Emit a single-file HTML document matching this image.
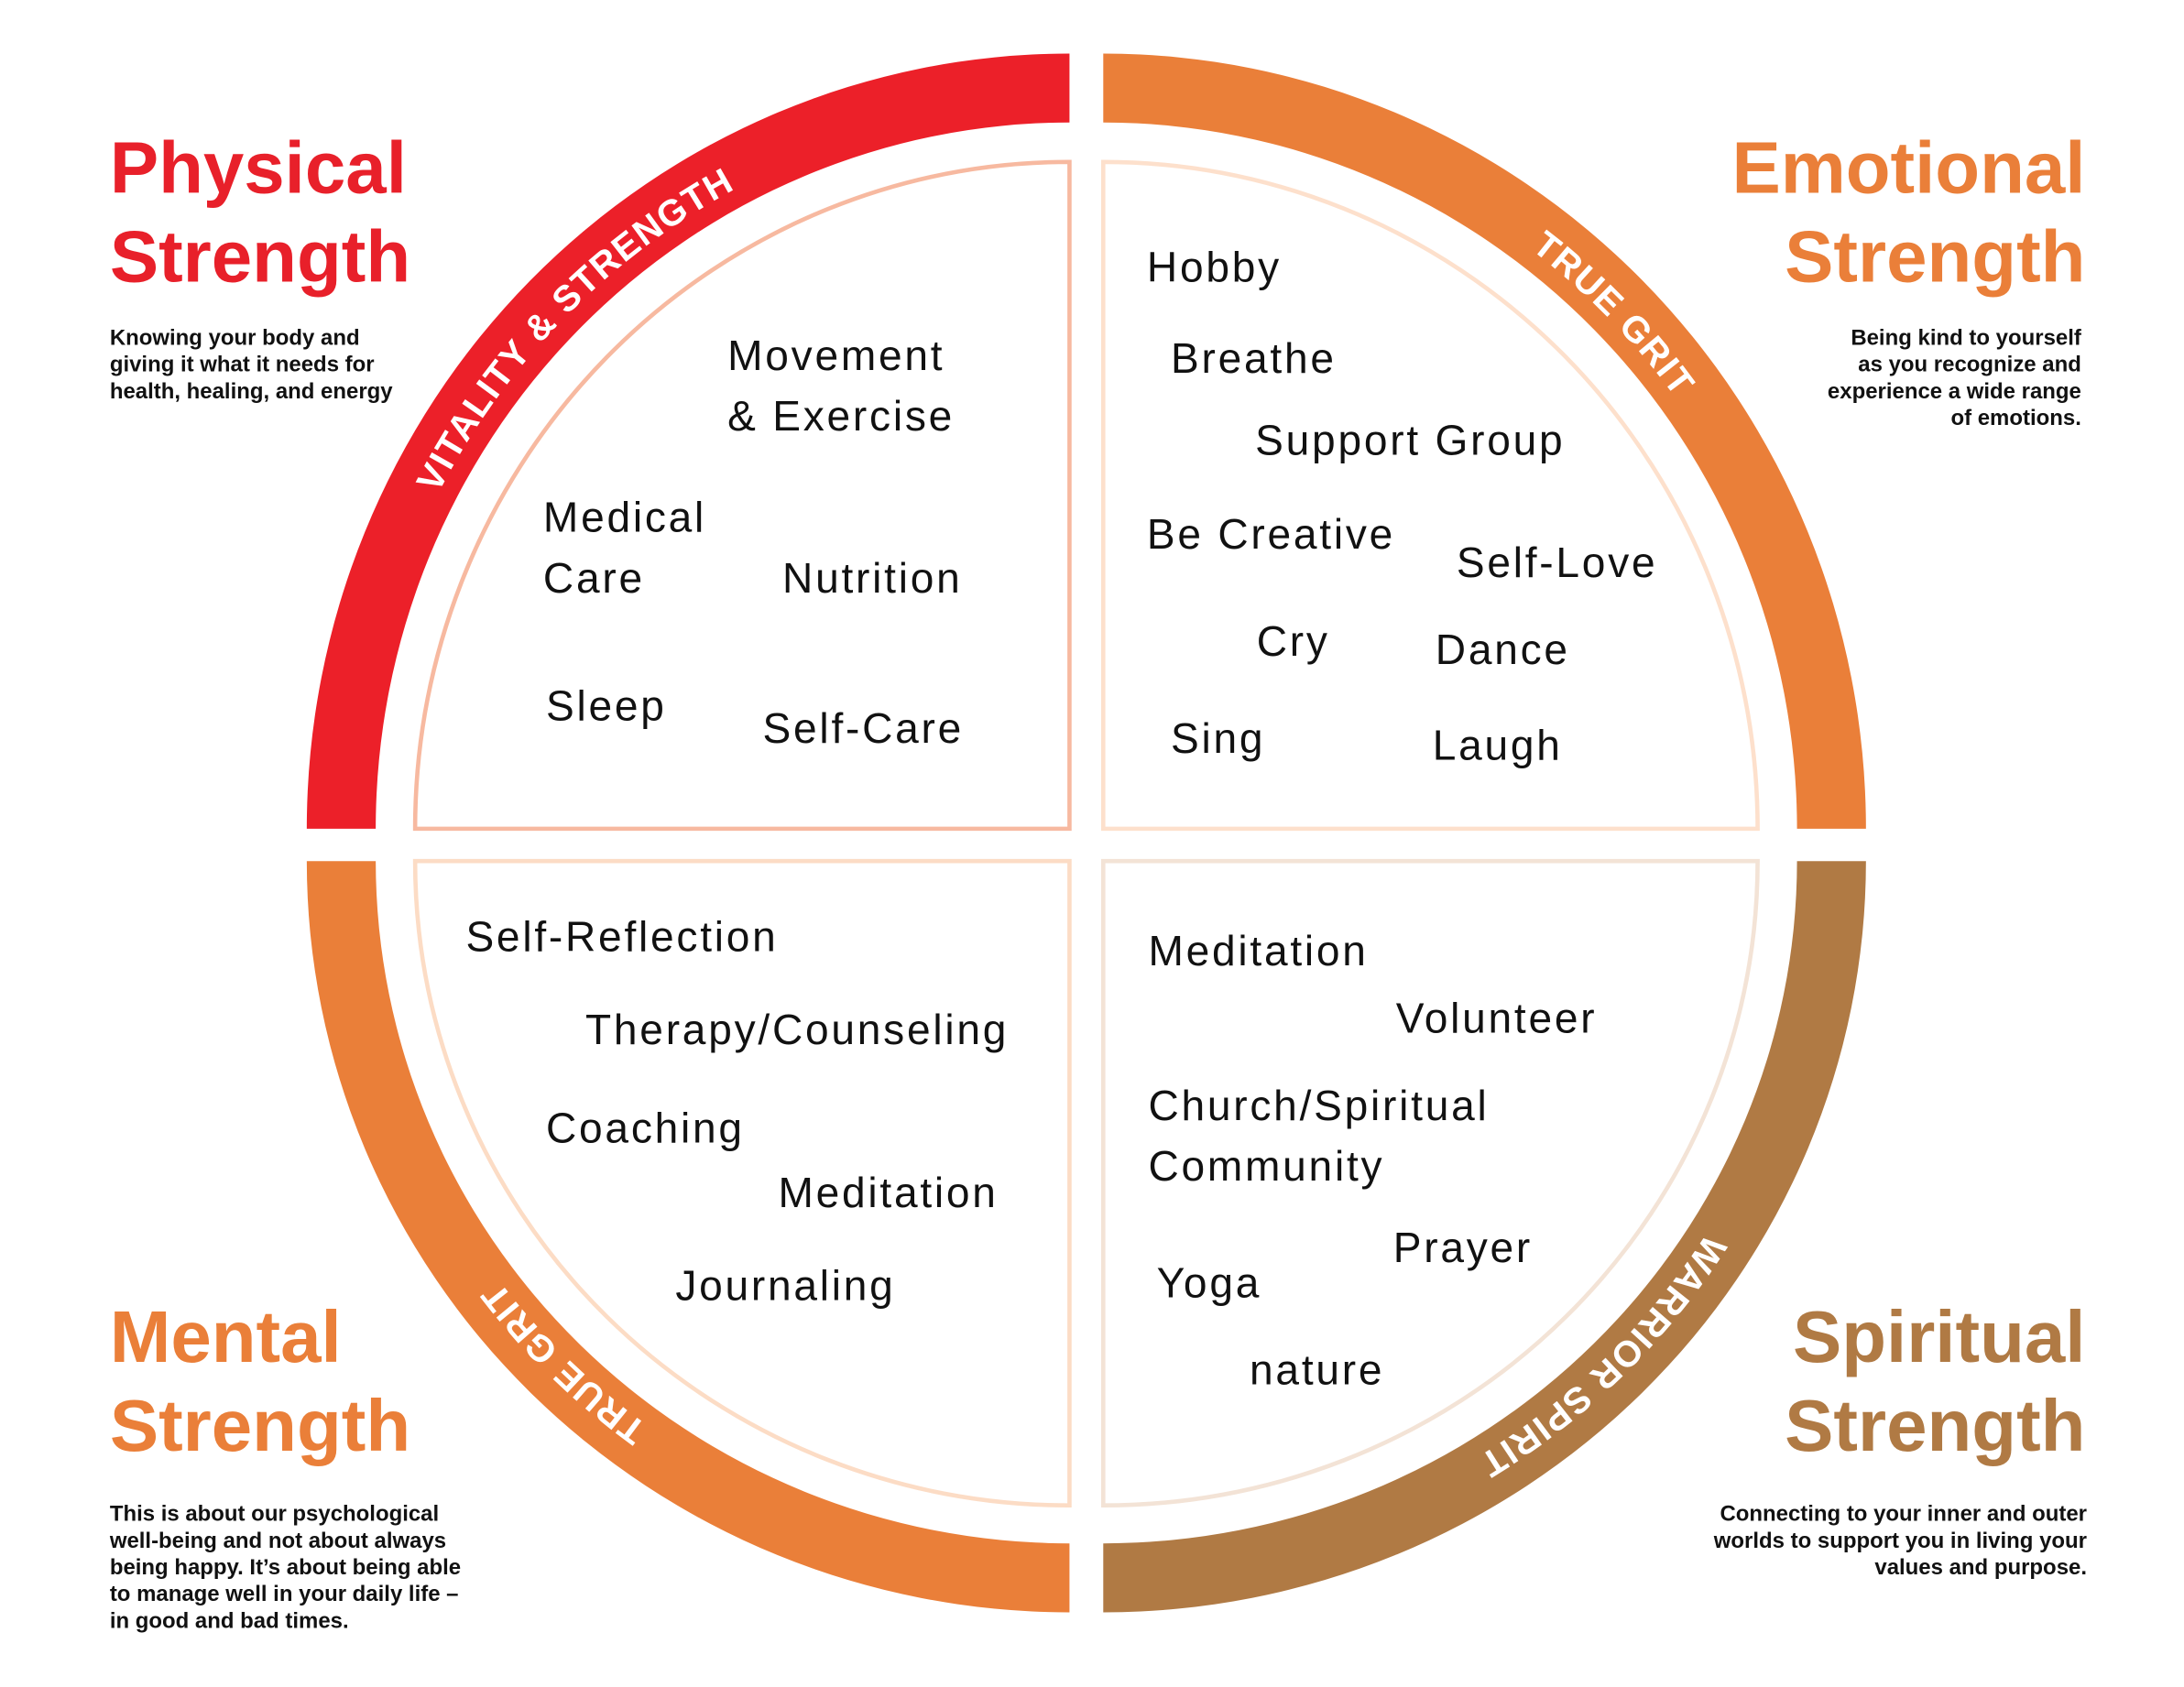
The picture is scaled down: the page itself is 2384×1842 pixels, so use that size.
<!DOCTYPE html>
<html><head><meta charset="utf-8"><style>
html,body{margin:0;padding:0;background:#fff}
svg{display:block}
.h{font-family:"Liberation Sans",sans-serif;font-weight:bold;font-size:52px}
.d{font-family:"Liberation Sans",sans-serif;font-weight:bold;font-size:15.6px;fill:#111}
.w{font-family:"Liberation Sans","DejaVu Sans",sans-serif;font-size:30px;fill:#111;letter-spacing:1.8px}
.r{font-family:"Liberation Sans",sans-serif;font-weight:bold;font-size:26px;fill:#fff;letter-spacing:1px}
</style></head><body>
<svg width="2384" height="1842" viewBox="0 0 1552 1199" xmlns="http://www.w3.org/2000/svg">
<defs>
<path id="pTL" d="M 254,589 A 506,515 0 0 1 760,74"/>
<path id="pTR" d="M 784,74 A 506,515 0 0 1 1290,589"/>
<path id="pBR" d="M 1290,612 A 506,498 0 0 1 784,1110"/>
<path id="pBL" d="M 760,1110 A 506,498 0 0 1 254,612"/>
</defs>
<path d="M218,589 A542,551 0 0 1 760,38 L760,87 A493,502 0 0 0 267,589 Z" fill="#ec2029"/>
<path d="M784,38 A542,551 0 0 1 1326,589 L1277,589 A493,502 0 0 0 784,87 Z" fill="#ea7f39"/>
<path d="M1326,612 A542,534 0 0 1 784,1146 L784,1097 A493,485 0 0 0 1277,612 Z" fill="#b07a44"/>
<path d="M760,1146 A542,534 0 0 1 218,612 L267,612 A493,485 0 0 0 760,1097 Z" fill="#ea7f39"/>
<path d="M760,115 L760,589 L295,589 A465,474 0 0 1 760,115 Z" fill="none" stroke="#f7b9a0" stroke-width="3"/>
<path d="M784,115 L784,589 L1249,589 A465,474 0 0 0 784,115 Z" fill="none" stroke="#fde0cc" stroke-width="3"/>
<path d="M784,612 L1249,612 A465,458 0 0 1 784,1070 Z" fill="none" stroke="#f3e3d6" stroke-width="3"/>
<path d="M760,612 L295,612 A465,458 0 0 0 760,1070 Z" fill="none" stroke="#fcdcc5" stroke-width="3"/>
<text class="r"><textPath href="#pTL" startOffset="50%" text-anchor="middle">VITALITY &amp; STRENGTH</textPath></text>
<text class="r"><textPath href="#pTR" startOffset="50%" text-anchor="middle">TRUE GRIT</textPath></text>
<text class="r"><textPath href="#pBR" startOffset="50%" text-anchor="middle">WARRIOR SPIRIT</textPath></text>
<text class="r"><textPath href="#pBL" startOffset="50%" text-anchor="middle">TRUE GRIT</textPath></text>
<g class="h">
<text x="78" y="137" fill="#e8202a">Physical</text>
<text x="78" y="200" fill="#e8202a">Strength</text>
<text x="1482" y="137" fill="#ea7f39" text-anchor="end">Emotional</text>
<text x="1482" y="200" fill="#ea7f39" text-anchor="end">Strength</text>
<text x="78" y="968" fill="#ea7f39">Mental</text>
<text x="78" y="1031" fill="#ea7f39">Strength</text>
<text x="1482" y="968" fill="#b07a44" text-anchor="end">Spiritual</text>
<text x="1482" y="1031" fill="#b07a44" text-anchor="end">Strength</text>
</g>
<g class="d">
<text x="78" y="245">Knowing your body and</text>
<text x="78" y="264">giving it what it needs for</text>
<text x="78" y="283">health, healing, and energy</text>
<g text-anchor="end">
<text x="1479" y="245">Being kind to yourself</text>
<text x="1479" y="264">as you recognize and</text>
<text x="1479" y="283">experience a wide range</text>
<text x="1479" y="302">of emotions.</text>
<text x="1483" y="1081">Connecting to your inner and outer</text>
<text x="1483" y="1100">worlds to support you in living your</text>
<text x="1483" y="1119">values and purpose.</text>
</g>
<text x="78" y="1081">This is about our psychological</text>
<text x="78" y="1100">well-being and not about always</text>
<text x="78" y="1119">being happy. It’s about being able</text>
<text x="78" y="1138">to manage well in your daily life –</text>
<text x="78" y="1157">in good and bad times.</text>
</g>
<g class="w">
<text x="517" y="263">Movement</text>
<text x="517" y="306">&amp; Exercise</text>
<text x="386" y="378">Medical</text>
<text x="386" y="421">Care</text>
<text x="556" y="421">Nutrition</text>
<text x="388" y="512">Sleep</text>
<text x="542" y="528">Self-Care</text>

<text x="815" y="200">Hobby</text>
<text x="832" y="265">Breathe</text>
<text x="892" y="323">Support Group</text>
<text x="815" y="390">Be Creative</text>
<text x="1035" y="410">Self-Love</text>
<text x="893" y="466">Cry</text>
<text x="1020" y="472">Dance</text>
<text x="832" y="535">Sing</text>
<text x="1018" y="540">Laugh</text>

<text x="331" y="676">Self-Reflection</text>
<text x="416" y="742">Therapy/Counseling</text>
<text x="388" y="812">Coaching</text>
<text x="553" y="858">Meditation</text>
<text x="480" y="924">Journaling</text>

<text x="816" y="686">Meditation</text>
<text x="992" y="734">Volunteer</text>
<text x="816" y="796">Church/Spiritual</text>
<text x="816" y="839">Community</text>
<text x="990" y="897">Prayer</text>
<text x="822" y="922">Yoga</text>
<text x="888" y="984">nature</text>
</g>
</svg>
</body></html>
